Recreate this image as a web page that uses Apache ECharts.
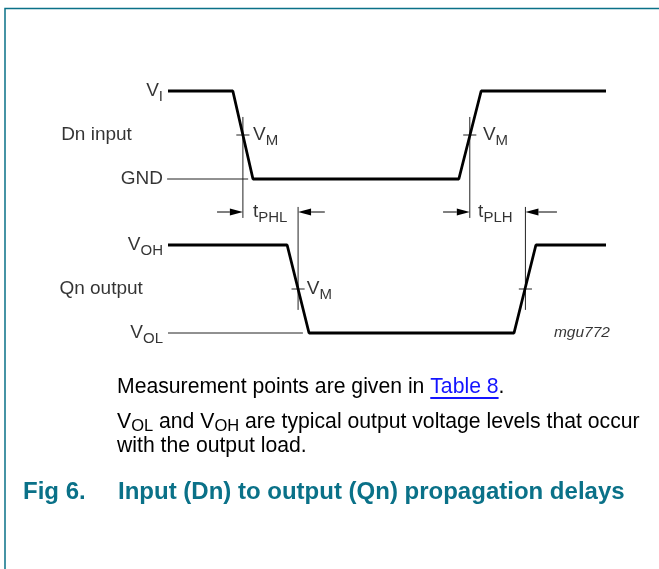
<!DOCTYPE html>
<html>
<head>
<meta charset="utf-8">
<script src="https://cdn.jsdelivr.net/npm/echarts@6/dist/echarts.min.js"></script>
<style>
  html, body { margin: 0; padding: 0; background: #fff; }
  #main { width: 659px; height: 569px; }
</style>
</head>
<body>
<div id="main"></div>
<script>
var FONT = '"Liberation Sans", Arial, Helvetica, sans-serif';
var TEAL = '#0a7188';

// waveforms (time in % of the span, level in diagram units)
var timeIn = [0, 14.8, 19.4, 66.4, 71.5, 100];
var levelIn = [11, 11, 7, 7, 11, 11];
var timeOut = [0, 27.2, 32.2, 79, 84, 100];
var levelOut = [4, 4, 0, 0, 4, 4];

// levels
var VI = 11, VM_IN = 9, GND = 7, VOH = 4, VM_OUT = 2, VOL = 0;

// measurement markers (crossing of VM)
var markIn = [17.1, 68.9];
var markOut = [29.7, 81.6];
var markInSpan = [5.23, 9.82];
var markOutSpan = [1.05, 5.73];

// delay arrows: [from, to]
var arrowY = 5.5;
var arrowsPHL = [[11.2, 17.1], [35.8, 29.7]];
var arrowsPLH = [[62.8, 68.9], [88.8, 81.6]];

// thin reference lines: [x1, x2]
var gndRef = [-0.2, 18.3];
var volRef = [0, 30.8];

var tickHalf = 1.5;
var labelCol = -24.4;

var myChart = echarts.init(document.getElementById('main'));

var rich = {
  m: { fontSize: 19, fontFamily: FONT, color: '#000', lineHeight: 22 },
  s: { fontSize: 15, fontFamily: FONT, color: '#000', lineHeight: 16, padding: [11, 0, 0, 0] }
};

function lbl(x, y, text, pos) {
  return {
    value: [x, y],
    label: { show: true, position: pos, distance: pos === 'left' ? 5 : 0, formatter: text, rich: rich }
  };
}

// thin guide segments [x1, y1, x2, y2]
var guides = [
  [gndRef[0], GND, gndRef[1], GND],
  [volRef[0], VOL, volRef[1], VOL]
];
markIn.forEach(function (t) {
  guides.push([t, markInSpan[0], t, markInSpan[1]]);
  guides.push([t - tickHalf, VM_IN, t + tickHalf, VM_IN]);
});
markOut.forEach(function (t) {
  guides.push([t, markOutSpan[0], t, markOutSpan[1]]);
  guides.push([t - tickHalf, VM_OUT, t + tickHalf, VM_OUT]);
});

var arrows = arrowsPHL.concat(arrowsPLH).map(function (a) { return [a[0], a[1], arrowY]; });

var option = {
  animation: false,
  grid: { left: 168, right: 53, top: 91, bottom: 236 },
  xAxis: { type: 'value', min: 0, max: 100, show: false },
  yAxis: { type: 'value', min: 0, max: 11, show: false },
  series: [
    {
      name: 'Dn input', type: 'line', clip: false, showSymbol: false, z: 5,
      lineStyle: { color: '#000', width: 2.8 },
      data: timeIn.map(function (t, i) { return [t, levelIn[i]]; })
    },
    {
      name: 'Qn output', type: 'line', clip: false, showSymbol: false, z: 5,
      lineStyle: { color: '#000', width: 2.8 },
      data: timeOut.map(function (t, i) { return [t, levelOut[i]]; })
    },
    {
      type: 'custom', clip: false, z: 3,
      encode: { x: [0, 2], y: [1, 3] },
      data: guides,
      renderItem: function (params, api) {
        var p1 = api.coord([api.value(0), api.value(1)]);
        var p2 = api.coord([api.value(2), api.value(3)]);
        return {
          type: 'line',
          shape: { x1: p1[0], y1: p1[1], x2: p2[0], y2: p2[1] },
          style: { stroke: '#222', lineWidth: 1 }
        };
      }
    },
    {
      type: 'custom', clip: false, z: 3,
      encode: { x: [0, 1], y: 2 },
      data: arrows,
      renderItem: function (params, api) {
        var p1 = api.coord([api.value(0), api.value(2)]);
        var p2 = api.coord([api.value(1), api.value(2)]);
        var dir = p2[0] > p1[0] ? 1 : -1;
        var len = 13, half = 3.5;
        var base = p2[0] - dir * len;
        return {
          type: 'group',
          children: [
            { type: 'line', shape: { x1: p1[0], y1: p1[1], x2: base, y2: p2[1] },
              style: { stroke: '#000', lineWidth: 1 } },
            { type: 'polygon', shape: { points: [[p2[0], p2[1]], [base, p2[1] - half], [base, p2[1] + half]] },
              style: { fill: '#000' } }
          ]
        };
      }
    },
    {
      type: 'scatter', clip: false, symbolSize: 0, z: 6,
      data: [
        lbl(timeIn[0], VI, '{m|V}{s|I}', 'left'),
        lbl(timeIn[0], GND, '{m|GND}', 'left'),
        lbl(timeOut[0], VOH, '{m|V}{s|OH}', 'left'),
        lbl(timeOut[0], VOL, '{m|V}{s|OL}', 'left'),
        lbl(labelCol, VM_IN, '{m|Dn input}', 'right'),
        lbl(labelCol - 0.4, VM_OUT, '{m|Qn output}', 'right'),
        lbl(timeIn[2], VM_IN, '{m|V}{s|M}', 'right'),
        lbl(timeIn[4] + 0.4, VM_IN, '{m|V}{s|M}', 'right'),
        lbl(timeOut[2] - 0.5, VM_OUT, '{m|V}{s|M}', 'right'),
        lbl(timeIn[2], arrowY, '{m|t}{s|PHL}', 'right'),
        lbl(markIn[1] + 1.9, arrowY, '{m|t}{s|PLH}', 'right'),
        {
          value: [88.1, VOL],
          label: { show: true, position: 'right', distance: 0, formatter: 'mgu772',
                   fontSize: 15.5, fontStyle: 'italic', fontFamily: FONT, color: '#000' }
        }
      ]
    }
  ]
};

// caption text
var CAP = 21.2;
var ctx = document.createElement('canvas').getContext('2d');
ctx.font = CAP + 'px ' + FONT;
var capX = 117;
var preLink = 'Measurement points are given in ';
var linkX = capX + ctx.measureText(preLink).width;
var linkW = ctx.measureText('Table 8').width;
var LINK = '#1414ff';

var capRich = {
  t: { fontSize: CAP, fontFamily: FONT, fill: '#000' },
  link: { fontSize: CAP, fontFamily: FONT, fill: LINK },
  s: { fontSize: 16.5, fontFamily: FONT, fill: '#000', padding: [9, 0, 0, 0] }
};

option.graphic = [
  {
    type: 'polyline', silent: true,
    shape: { points: [[5, 569], [5, 8.5], [659, 8.5]] },
    style: { stroke: TEAL, lineWidth: 1.5, fill: null }
  },
  {
    type: 'text', x: capX, y: 387,
    style: { text: '{t|' + preLink + '}{link|Table 8}{t|.}', rich: capRich, verticalAlign: 'middle' }
  },
  {
    type: 'line', silent: true,
    shape: { x1: linkX, y1: 398, x2: linkX + linkW, y2: 398 },
    style: { stroke: LINK, lineWidth: 2 }
  },
  {
    type: 'text', x: capX, y: 422,
    style: { text: '{t|V}{s|OL}{t| and V}{s|OH}{t| are typical output voltage levels that occur}', rich: capRich, verticalAlign: 'middle' }
  },
  {
    type: 'text', x: capX, y: 446,
    style: { text: 'with the output load.', fontSize: CAP, fontFamily: FONT, fill: '#000', verticalAlign: 'middle' }
  },
  {
    type: 'text', x: 23, y: 492,
    style: { text: 'Fig 6.', fontSize: 24, fontWeight: 'bold', fontFamily: FONT, fill: TEAL, verticalAlign: 'middle' }
  },
  {
    type: 'text', x: 118, y: 492,
    style: { text: 'Input (Dn) to output (Qn) propagation delays', fontSize: 24, fontWeight: 'bold', fontFamily: FONT, fill: TEAL, verticalAlign: 'middle' }
  }
];

myChart.setOption(option);
</script>
</body>
</html>
